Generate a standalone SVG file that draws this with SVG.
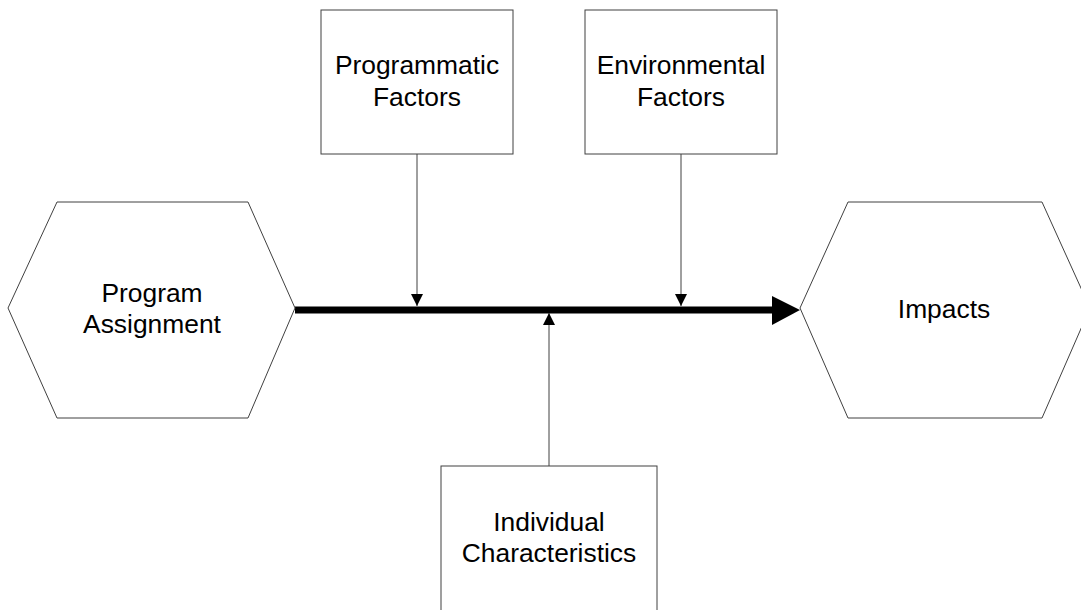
<svg xmlns="http://www.w3.org/2000/svg" width="1081" height="610" viewBox="0 0 1081 610">
<style>
.shape{fill:#fff;stroke:#404040;stroke-width:1}
.lbl{font-family:"Liberation Sans",Arial,sans-serif;font-size:26.4px;fill:#000;text-anchor:middle}
.thin{stroke:#404040;stroke-width:1;fill:none}
</style>
<defs>
<marker id="sm" viewBox="0 0 12 12" refX="12" refY="6" markerWidth="12" markerHeight="12" markerUnits="userSpaceOnUse" orient="auto">
<path d="M0,0 L12,6 L0,12 Z" fill="#000"/>
</marker>
</defs>
<rect width="1081" height="610" fill="#fff"/>
<g id="connectors">
<line x1="295" y1="310" x2="774" y2="310" stroke="#000" stroke-width="7"/>
<path d="M772,296 L800,310 L772,325 Z" fill="#000"/>
<line class="thin" x1="417" y1="154" x2="417" y2="306" marker-end="url(#sm)"/>
<line class="thin" x1="681" y1="154" x2="681" y2="306" marker-end="url(#sm)"/>
<line class="thin" x1="549" y1="466" x2="549" y2="313" marker-end="url(#sm)"/>
</g>
<g id="program-assignment">
<polygon class="shape" points="57,202 248,202 295,308 248,418 57,418 8,308"/>
<text class="lbl" x="152" y="302">Program</text>
<text class="lbl" x="152" y="333">Assignment</text>
</g>
<g id="impacts">
<polygon class="shape" points="848,202 1042,202 1090,308 1042,418 848,418 800,308"/>
<text class="lbl" x="944" y="318">Impacts</text>
</g>
<g id="programmatic-factors">
<rect class="shape" x="321" y="10" width="192" height="144"/>
<text class="lbl" x="417" y="74">Programmatic</text>
<text class="lbl" x="417" y="106">Factors</text>
</g>
<g id="environmental-factors">
<rect class="shape" x="585" y="10" width="192" height="144"/>
<text class="lbl" x="681" y="74">Environmental</text>
<text class="lbl" x="681" y="106">Factors</text>
</g>
<g id="individual-characteristics">
<rect class="shape" x="441" y="466" width="216" height="160"/>
<text class="lbl" x="549" y="531">Individual</text>
<text class="lbl" x="549" y="562">Characteristics</text>
</g>
</svg>
